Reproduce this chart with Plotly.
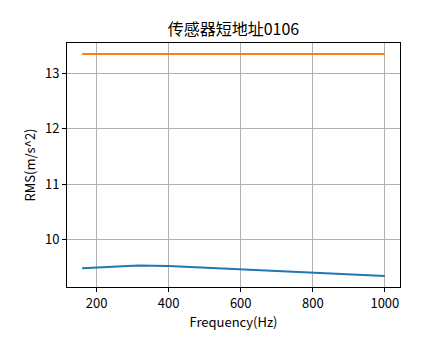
import plotly.graph_objects as go

title = "传感器短地址0106"
freq = [160, 200, 250, 315, 400, 500, 630, 800, 1000]
rms_blue = [9.47, 9.485, 9.50, 9.52, 9.51, 9.48, 9.445, 9.39, 9.33]
rms_orange = [13.36] * len(freq)

font = "Noto Sans CJK SC, SimHei, sans-serif"
fig = go.Figure()
fig.add_trace(go.Scatter(x=freq, y=rms_blue, mode="lines", line=dict(color="#1f77b4", width=2)))
fig.add_trace(go.Scatter(x=freq, y=rms_orange, mode="lines", line=dict(color="#ff7f0e", width=2)))

axis_common = dict(showline=True, linecolor="black", linewidth=1, mirror=True,
                   ticks="outside", ticklen=4, tickcolor="black",
                   showgrid=True, gridcolor="#b0b0b0", gridwidth=1, zeroline=False,
                   tickfont=dict(family=font, size=13, color="black"))
fig.update_layout(
    width=444, height=359,
    margin=dict(l=59, r=52, t=35, b=80),
    paper_bgcolor="white", plot_bgcolor="white",
    showlegend=False,
    title=dict(text=title, x=(59 + 333 / 2) / 444, xanchor="center", y=1 - 21/359, yanchor="middle",
               font=dict(family=font, size=16, color="black")),
    xaxis=dict(range=[118, 1042], tickvals=[200, 400, 600, 800, 1000],
               title=dict(text="Frequency(Hz)", font=dict(family=font, size=13, color="black"), standoff=6),
               **axis_common),
    yaxis=dict(range=[9.13, 13.56], tickvals=[10, 11, 12, 13],
               title=dict(text="RMS(m/s^2)", font=dict(family=font, size=13, color="black"), standoff=6),
               **axis_common),
)
fig.write_html("out.html")
